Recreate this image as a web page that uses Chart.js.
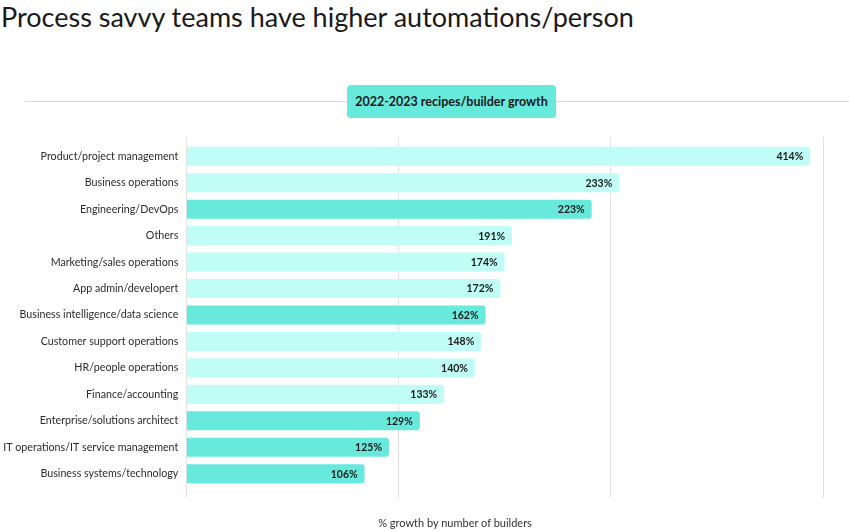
<!DOCTYPE html>
<html lang="en">
<head>
    <meta charset="UTF-8">
    <title>Process savvy teams have higher automations/person</title>
    <script src="https://cdn.jsdelivr.net/npm/chart.js"></script>
    <style>
        body { margin: 0; background: #fff; font-family: Lato, sans-serif; color: #1e1e1e; }
        #wrap { position: relative; width: 849px; height: 531px; overflow: hidden; }
        #title { position: absolute; left: 1px; top: 0px; font-size: 27px; line-height: 34px; color: #1a1a1a; white-space: nowrap; }
        #rule { position: absolute; left: 25px; right: 0; top: 101px; height: 1px; background: #a9ede6; }
        #badge { position: absolute; left: 347px; top: 85px; width: 209px; height: 33px; line-height: 33px;
                 background: #67e9dc; border-radius: 4px; text-align: center; font-size: 12.5px; font-weight: bold; color: #1a1a1a; }
        #caption { position: absolute; left: 355px; width: 200px; top: 516px; text-align: center; font-size: 11px; color: #333; }
        canvas { position: absolute; left: 0; top: 0; }
    </style>
</head>
<body>
<div id="wrap">
    <div id="title">Process savvy teams have higher automations/person</div>
    <div id="rule"></div>
    <div id="badge">2022-2023 recipes/builder growth</div>
    <canvas id="growthChart" width="849" height="531"></canvas>
    <div id="caption">% growth by number of builders</div>
</div>

<script>
    const roles = [
        'Product/project management', 'Business operations', 'Engineering/DevOps', 'Others',
        'Marketing/sales operations', 'App admin/developert', 'Business intelligence/data science',
        'Customer support operations', 'HR/people operations', 'Finance/accounting',
        'Enterprise/solutions architect', 'IT operations/IT service management', 'Business systems/technology'
    ];
    // bar lengths as drawn (grid step = 1)
    const barLength = [2.94, 2.04, 1.91, 1.535, 1.50, 1.48, 1.41, 1.39, 1.36, 1.215, 1.10, 0.955, 0.84];
    // printed growth labels
    const growthPct = [414, 233, 223, 191, 174, 172, 162, 148, 140, 133, 129, 125, 106];
    const highlighted = [0, 0, 1, 0, 0, 0, 1, 0, 0, 0, 1, 1, 1];

    const lightColor = '#c0fdf7';
    const darkColor = '#67e9dc';
    const gridColor = '#e3e3e3';

    const valueLabels = {
        id: 'valueLabels',
        afterDatasetsDraw(chart) {
            const ctx = chart.ctx;
            const meta = chart.getDatasetMeta(0);
            ctx.save();
            ctx.font = 'bold 10.5px Lato, sans-serif';
            ctx.fillStyle = '#1a1a1a';
            ctx.textAlign = 'right';
            ctx.textBaseline = 'middle';
            meta.data.forEach((bar, i) => {
                ctx.fillText(growthPct[i] + '%', bar.x - 7, bar.y + 0.5);
            });
            ctx.restore();
        }
    };

    const ctx = document.getElementById('growthChart').getContext('2d');
    new Chart(ctx, {
        type: 'bar',
        data: {
            labels: roles,
            datasets: [{
                data: barLength,
                backgroundColor: highlighted.map(h => h ? darkColor : lightColor),
                borderRadius: 3,
                borderSkipped: 'start',
                barPercentage: 0.72,
                categoryPercentage: 1
            }]
        },
        options: {
            indexAxis: 'y',
            responsive: false,
            animation: false,
            layout: { padding: { top: 137, bottom: 33, left: 0, right: 26 } },
            plugins: { legend: { display: false }, tooltip: { enabled: false } },
            scales: {
                x: {
                    position: 'bottom',
                    min: 0, max: 3,
                    ticks: { display: false, stepSize: 1 },
                    grid: { color: gridColor, tickLength: 11 },
                    border: { display: false }
                },
                x2: {
                    position: 'top',
                    min: 0, max: 3,
                    ticks: { display: false, stepSize: 1 },
                    grid: { color: gridColor, tickLength: 6 },
                    border: { display: false }
                },
                y: {
                    grid: { display: false, drawTicks: false },
                    border: { display: false },
                    ticks: { color: '#2b2b2b', font: { family: 'Lato', size: 10.7 }, padding: 8 },
                    afterFit(scale) { scale.width = 186.3; }
                }
            }
        },
        plugins: [valueLabels]
    });
</script>
</body>
</html>
